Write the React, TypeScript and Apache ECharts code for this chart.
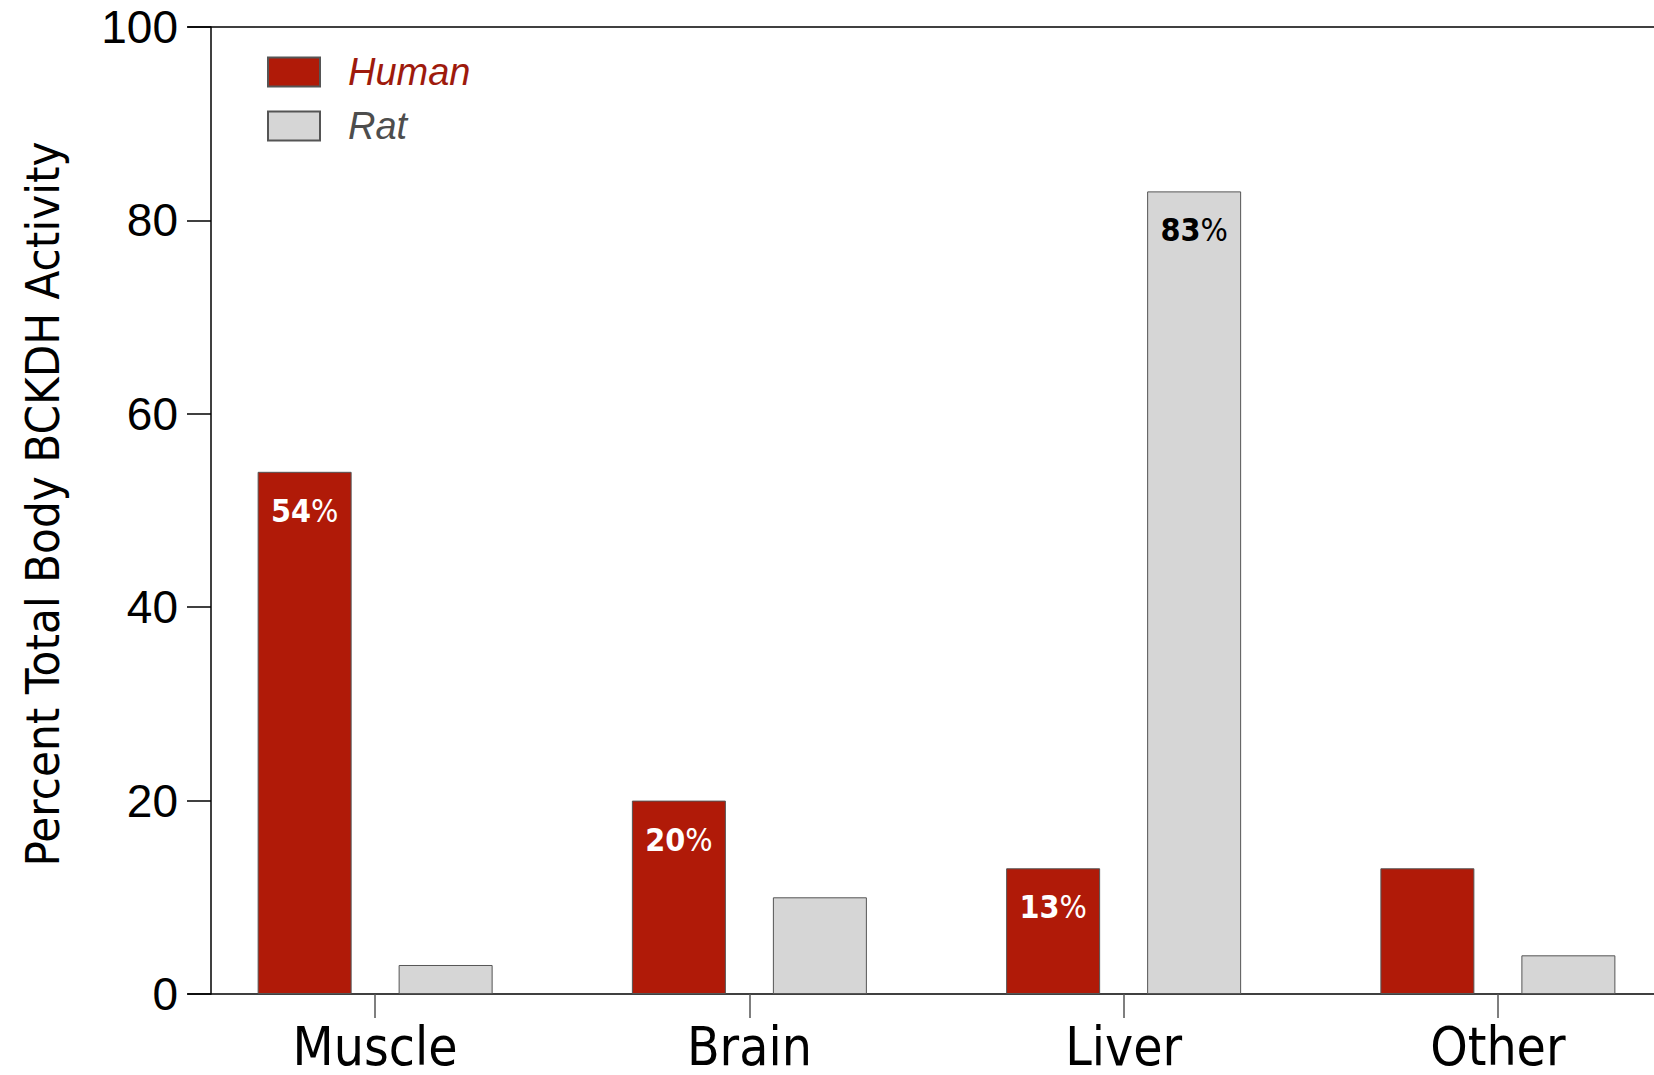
import React, { useEffect, useRef } from "react";
import * as echarts from "echarts";

const categories = ["Muscle", "Brain", "Liver", "Other"];
const humanValues = [54, 20, 13, 13];
const ratValues = [3, 10, 83, 4];
const humanLabeled = [true, true, true, false];
const ratLabeled = [false, false, true, false];
const yTicks = [0, 20, 40, 60, 80, 100];

const NARROW = "'Liberation Sans Narrow', 'DejaVu Sans Condensed', 'Roboto', sans-serif";
const SANS = "'Liberation Sans', Arial, sans-serif";

export default function App() {
  const ref = useRef<HTMLDivElement>(null);
  useEffect(() => {
    document.body.style.margin = "0";
    const chart = echarts.init(ref.current!, null, { renderer: "svg" });
    const labelRich = (color: string) => ({
      b: { fontFamily: NARROW, fontWeight: "bold", fontSize: 32, color },
      p: { fontFamily: NARROW, fontWeight: "normal", fontSize: 32, color },
    });
    const mkData = (vals: number[], flags: boolean[]) =>
      vals.map((v, i) => ({ value: v, label: { show: flags[i] } }));
    chart.setOption({
      animation: false,
      grid: { left: 188, width: 1497, top: 27, bottom: 81, outerBoundsMode: "none", containLabel: false },
      legend: {
        left: 262,
        top: 48,
        orient: "vertical",
        icon: "rect",
        itemWidth: 52,
        itemHeight: 29,
        itemGap: 16,
        data: [
          { name: "Human", textStyle: { color: "#9e1a0c" } },
          { name: "Rat", textStyle: { color: "#4d4d4d" } },
        ],
        textStyle: {
          fontFamily: SANS,
          fontStyle: "italic",
          fontSize: 38,
          padding: [0, 0, 0, 23],
        },
      },
      xAxis: [
        {
          type: "category",
          data: categories,
          axisLine: { lineStyle: { color: "#000", width: 1.5 } },
          axisTick: { show: true, length: 24, alignWithLabel: true, lineStyle: { color: "#555", width: 1.5 } },
          axisLabel: { fontFamily: NARROW, fontSize: 53, lineHeight: 54, color: "#000", margin: 25 },
        },
        {
          type: "category",
          position: "top",
          data: categories,
          axisLine: { lineStyle: { color: "#000", width: 1.5 } },
          axisTick: { show: false },
          axisLabel: { show: false },
        },
      ],
      yAxis: {
        type: "value",
        min: 0,
        max: 100,
        interval: 20,
        offset: -23,
        name: "Percent Total Body BCKDH Activity",
        nameLocation: "middle",
        nameGap: 145,
        nameTextStyle: { fontFamily: NARROW, fontSize: 47, color: "#000", padding: [0, 0, 0, 13] },
        axisLine: { show: true, lineStyle: { color: "#000", width: 1.5 } },
        axisTick: { show: true, length: 24, lineStyle: { color: "#000", width: 1.5 } },
        axisLabel: {
          fontFamily: SANS,
          fontSize: 46,
          color: "#000",
          margin: 33,
          formatter: (v: number) => (yTicks.includes(v) ? String(v) : ""),
        },
        splitLine: { show: false },
      },
      series: [
        {
          name: "Human",
          type: "bar",
          barWidth: 94,
          barGap: "50%",
          data: mkData(humanValues, humanLabeled),
          itemStyle: { color: "#b01a08", borderColor: "#555", borderWidth: 1 },
          label: {
            position: "insideTop",
            distance: 23,
            formatter: (p: any) => `{b|${p.value}}{p|%}`,
            rich: labelRich("#fff"),
          },
        },
        {
          name: "Rat",
          type: "bar",
          barWidth: 94,
          data: mkData(ratValues, ratLabeled),
          itemStyle: { color: "#d6d6d6", borderColor: "#555", borderWidth: 1 },
          label: {
            position: "insideTop",
            distance: 23,
            formatter: (p: any) => `{b|${p.value}}{p|%}`,
            rich: labelRich("#000"),
          },
        },
      ],
    });
    return () => chart.dispose();
  }, []);
  return <div ref={ref} style={{ width: 1654, height: 1075 }} />;
}
